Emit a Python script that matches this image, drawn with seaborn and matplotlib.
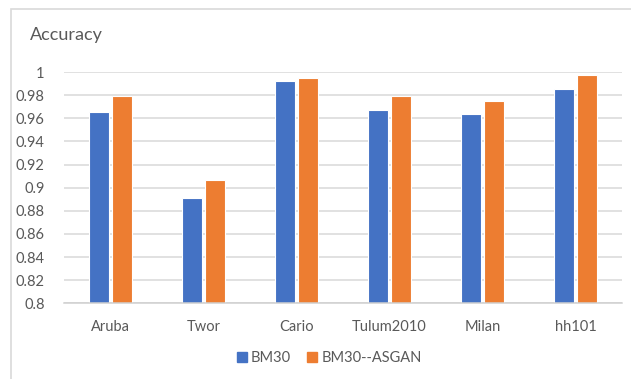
import matplotlib
matplotlib.use("Agg")
import matplotlib.pyplot as plt
import seaborn as sns
import pandas as pd
from matplotlib.patches import Rectangle
from matplotlib.lines import Line2D

datasets = ["Aruba", "Twor", "Cario", "Tulum2010", "Milan", "hh101"]
bm30 = [0.965, 0.891, 0.992, 0.967, 0.964, 0.985]
bm30_asgan = [0.979, 0.907, 0.995, 0.979, 0.975, 0.997]
series_names = ["BM30", "BM30--ASGAN"]
y_ticks = [0.8, 0.82, 0.84, 0.86, 0.88, 0.9, 0.92, 0.94, 0.96, 0.98, 1.0]
y_tick_labels = ["0.8", "0.82", "0.84", "0.86", "0.88", "0.9", "0.92", "0.94", "0.96", "0.98", "1"]

colors = ["#4472C4", "#ED7D31"]
text_color = "#595959"
grid_color = "#D9D9D9"

df = pd.DataFrame({
    "Dataset": datasets * 2,
    "Accuracy": bm30 + bm30_asgan,
    "Method": [series_names[0]] * len(datasets) + [series_names[1]] * len(datasets),
})

sns.set_theme(style="white")
plt.rcParams["font.family"] = ["Lato", "DejaVu Sans"]

W, H = 631, 379
fig = plt.figure(figsize=(W / 100, H / 100), dpi=100)
fig.patch.set_facecolor("white")

# axes placement in pixels
left, right, top, bottom = 64, 622, 72, 303.3
ax = fig.add_axes([left / W, 1 - bottom / H, (right - left) / W, (bottom - top) / H])

sns.barplot(data=df, x="Dataset", y="Accuracy", hue="Method", palette=colors,
            saturation=1, width=0.5, gap=0.12, edgecolor="white", linewidth=0.8,
            legend=False, ax=ax)

ax.set_ylim(0.8, 1.0)
ax.set_xlim(-0.5, len(datasets) - 0.5)
ax.set_yticks(y_ticks)
ax.set_yticklabels(y_tick_labels)
ax.yaxis.grid(True, color=grid_color, linewidth=1.1)
ax.set_axisbelow(True)
for s in ["top", "right", "left"]:
    ax.spines[s].set_visible(False)
ax.spines["bottom"].set_color("#D0D0D0")
ax.spines["bottom"].set_linewidth(1.1)
ax.tick_params(axis="both", length=0, colors=text_color, labelsize=10.5)
ax.tick_params(axis="y", pad=14)
ax.tick_params(axis="x", pad=12)
ax.set_xlabel("")
ax.set_ylabel("")

# chart title
fig.text(30 / W, 1 - 35 / H, "Accuracy", color=text_color, fontsize=13,
         ha="left", va="center")

# legend below the plot
handles = [Line2D([0], [0], marker="s", linestyle="", markersize=7,
                  markerfacecolor=c, markeredgecolor=c) for c in colors]
fig.legend(handles, series_names, loc="center", bbox_to_anchor=(328 / W, 1 - 358 / H),
           ncol=2, frameon=False, fontsize=10.5, labelcolor=text_color,
           handletextpad=0.1, columnspacing=1.0, handlelength=1.0)

# chart area border
fig.patches.append(Rectangle((10.5 / W, -0.05), (646 - 10.5) / W, 1.05 - 8.5 / H,
                             transform=fig.transFigure, fill=False,
                             edgecolor="#D9D9D9", linewidth=1.2, clip_on=False))

fig.savefig("out.png", dpi=100)
